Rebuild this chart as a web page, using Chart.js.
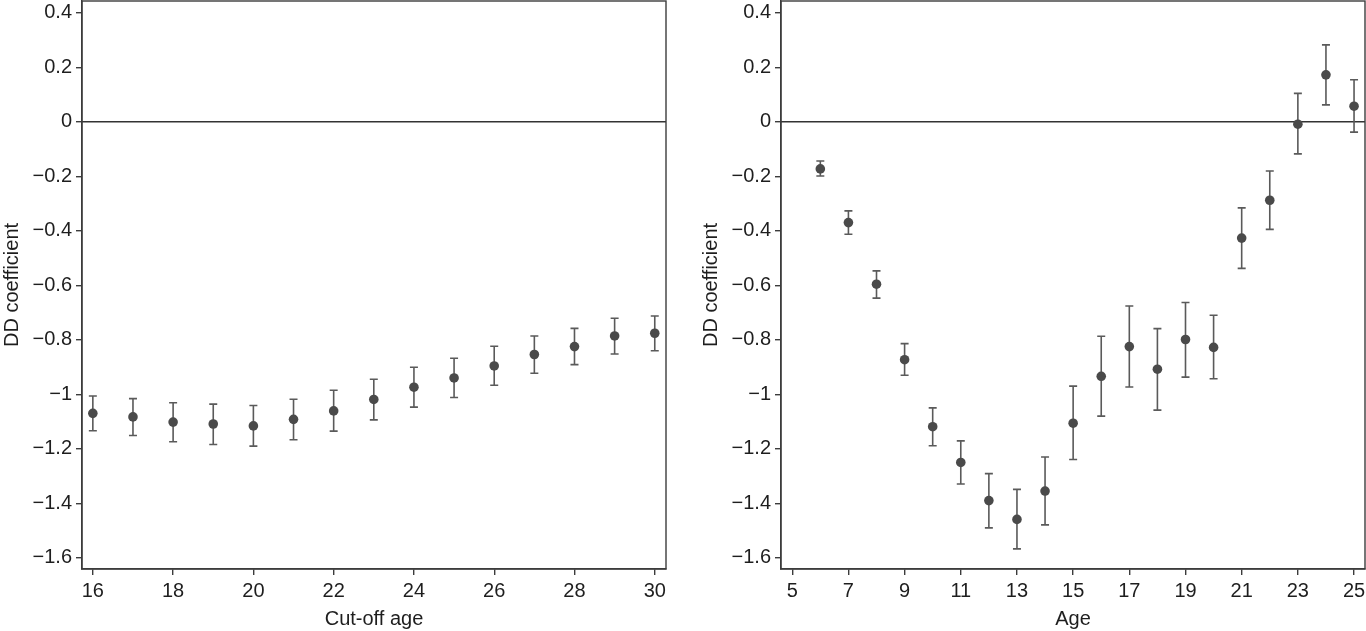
<!DOCTYPE html>
<html>
<head>
<meta charset="utf-8">
<script src="https://cdn.jsdelivr.net/npm/chart.js@4.4.0/dist/chart.umd.min.js"></script>
<style>
  html, body { margin: 0; padding: 0; background: #fff; }
  #wrap { position: relative; width: 1366px; height: 631px; }
  canvas { position: absolute; top: 0; }
  #c1 { left: 0; }
  #c2 { left: 683px; }
</style>
</head>
<body>
<div id="wrap">
  <canvas id="c1" width="683" height="631"></canvas>
  <canvas id="c2" width="683" height="631"></canvas>
</div>
<script>
// ---- Data: left panel (cut-off age) ----
const cutoffAges = [16, 17, 18, 19, 20, 21, 22, 23, 24, 25, 26, 27, 28, 29, 30];
const cutoffCoef = [-1.070, -1.083, -1.102, -1.109, -1.116, -1.092, -1.061, -1.019, -0.974, -0.940, -0.896, -0.854, -0.825, -0.786, -0.776];
const cutoffLow  = [-1.134, -1.151, -1.174, -1.184, -1.190, -1.167, -1.135, -1.094, -1.047, -1.012, -0.967, -0.923, -0.891, -0.852, -0.840];
const cutoffHigh = [-1.006, -1.016, -1.031, -1.036, -1.041, -1.018, -0.985, -0.945, -0.901, -0.868, -0.824, -0.786, -0.758, -0.721, -0.713];

// ---- Data: right panel (age) ----
const ages     = [6, 7, 8, 9, 10, 11, 12, 13, 14, 15, 16, 17, 18, 19, 20, 21, 22, 23, 24, 25];
const ageCoef  = [-0.173, -0.370, -0.596, -0.873, -1.119, -1.250, -1.390, -1.459, -1.355, -1.106, -0.934, -0.825, -0.908, -0.799, -0.828, -0.427, -0.288, -0.009, 0.172, 0.057];
const ageLow   = [-0.199, -0.413, -0.647, -0.930, -1.189, -1.329, -1.490, -1.567, -1.479, -1.239, -1.080, -0.973, -1.058, -0.937, -0.943, -0.538, -0.395, -0.118, 0.062, -0.038];
const ageHigh  = [-0.144, -0.327, -0.547, -0.814, -1.050, -1.171, -1.291, -1.349, -1.230, -0.970, -0.787, -0.676, -0.759, -0.663, -0.710, -0.316, -0.181, 0.104, 0.282, 0.154];

// ---- Tick labels ----
const yTicks      = [0.4, 0.2, 0, -0.2, -0.4, -0.6, -0.8, -1, -1.2, -1.4, -1.6];
const xTicksLeft  = [16, 18, 20, 22, 24, 26, 28, 30];
const xTicksRight = [5, 7, 9, 11, 13, 15, 17, 19, 21, 23, 25];

const yTitle = 'DD coefficient';
const xTitleLeft = 'Cut-off age';
const xTitleRight = 'Age';

const FONT = { family: "'Liberation Sans', Arial, Helvetica, sans-serif", size: 20 };
const AXIS_COLOR = '#3c3c3c';
const BAR_COLOR = '#5a5a5a';
const POINT_COLOR = '#4a4a4a';
const TEXT_COLOR = '#1e1e1e';

function fmt(v) {
  const r = Math.round(v * 10) / 10;
  const s = String(Math.abs(r));
  return (r < 0 ? '\u2212' : '') + s;
}

const decorPlugin = {
  id: 'decor',
  beforeDatasetsDraw(chart, args, opts) {
    const { ctx, chartArea: a, scales } = chart;
    const x = scales.x, y = scales.y;
    ctx.save();
    // zero reference line
    const y0 = y.getPixelForValue(0);
    ctx.strokeStyle = '#333';
    ctx.lineWidth = 1.4;
    ctx.beginPath();
    ctx.moveTo(a.left, y0);
    ctx.lineTo(a.right, y0);
    ctx.stroke();
    // error bars
    const xs = opts.xs, lo = opts.lo, hi = opts.hi;
    ctx.strokeStyle = BAR_COLOR;
    ctx.lineWidth = 1.6;
    const cap = 4;
    for (let i = 0; i < xs.length; i++) {
      const px = x.getPixelForValue(xs[i]);
      const pl = y.getPixelForValue(lo[i]);
      const ph = y.getPixelForValue(hi[i]);
      ctx.beginPath();
      ctx.moveTo(px, pl); ctx.lineTo(px, ph);
      ctx.moveTo(px - cap, pl); ctx.lineTo(px + cap, pl);
      ctx.moveTo(px - cap, ph); ctx.lineTo(px + cap, ph);
      ctx.stroke();
    }
    ctx.restore();
  },
  afterDraw(chart) {
    const { ctx, chartArea: a } = chart;
    ctx.save();
    ctx.strokeStyle = AXIS_COLOR;
    ctx.lineWidth = 1.4;
    ctx.strokeRect(a.left, a.top, a.right - a.left, a.bottom - a.top);
    ctx.restore();
  }
};

function makeChart(canvasId, xs, ys, lo, hi, xTicks, xMin, xMax, xTitle, padding) {
  const data = xs.map((v, i) => ({ x: v, y: ys[i] }));
  return new Chart(document.getElementById(canvasId), {
    type: 'scatter',
    data: {
      datasets: [{
        data: data,
        pointRadius: 4.8,
        pointHoverRadius: 4.8,
        pointBackgroundColor: POINT_COLOR,
        pointBorderWidth: 0,
        showLine: false
      }]
    },
    options: {
      responsive: false,
      animation: false,
      devicePixelRatio: 1,
      layout: { padding: padding, autoPadding: false },
      plugins: {
        legend: { display: false },
        tooltip: { enabled: false },
        decor: { xs: xs, lo: lo, hi: hi }
      },
      scales: {
        x: {
          type: 'linear',
          min: xMin,
          max: xMax,
          afterBuildTicks: (s) => { s.ticks = xTicks.map(v => ({ value: v })); },
          afterFit: (s) => { s.height = 62; s.paddingLeft = 0; s.paddingRight = 0; },
          grid: { drawOnChartArea: false, drawTicks: true, tickLength: 6, color: AXIS_COLOR, lineWidth: 1.4 },
          border: { display: true, color: AXIS_COLOR, width: 1.4 },
          ticks: { font: FONT, color: TEXT_COLOR, padding: 4, maxRotation: 0, autoSkip: false,
                   callback: (v) => String(v) },
          title: { display: true, text: xTitle, font: FONT, color: TEXT_COLOR, padding: { top: 0, bottom: 0 } }
        },
        y: {
          type: 'linear',
          min: -1.641,
          max: 0.443,
          afterBuildTicks: (s) => { s.ticks = yTicks.map(v => ({ value: v })); },
          afterFit: (s) => { s.width = 82; s.paddingTop = 0; s.paddingBottom = 0; },
          grid: { drawOnChartArea: false, drawTicks: true, tickLength: 6, color: AXIS_COLOR, lineWidth: 1.4 },
          border: { display: true, color: AXIS_COLOR, width: 1.4 },
          ticks: { font: FONT, color: TEXT_COLOR, padding: 4, autoSkip: false, callback: (v) => fmt(v) },
          title: { display: true, text: yTitle, font: FONT, color: TEXT_COLOR, padding: { top: 0, bottom: 0 } }
        }
      }
    },
    plugins: [decorPlugin]
  });
}

makeChart('c1', cutoffAges, cutoffCoef, cutoffLow, cutoffHigh, xTicksLeft, 15.73, 30.28, xTitleLeft,
          { top: 1, right: 17, left: 0, bottom: 0 });
makeChart('c2', ages, ageCoef, ageLow, ageHigh, xTicksRight, 4.6, 25.39, xTitleRight,
          { top: 1, right: 1, left: 16, bottom: 0 });
</script>
</body>
</html>
